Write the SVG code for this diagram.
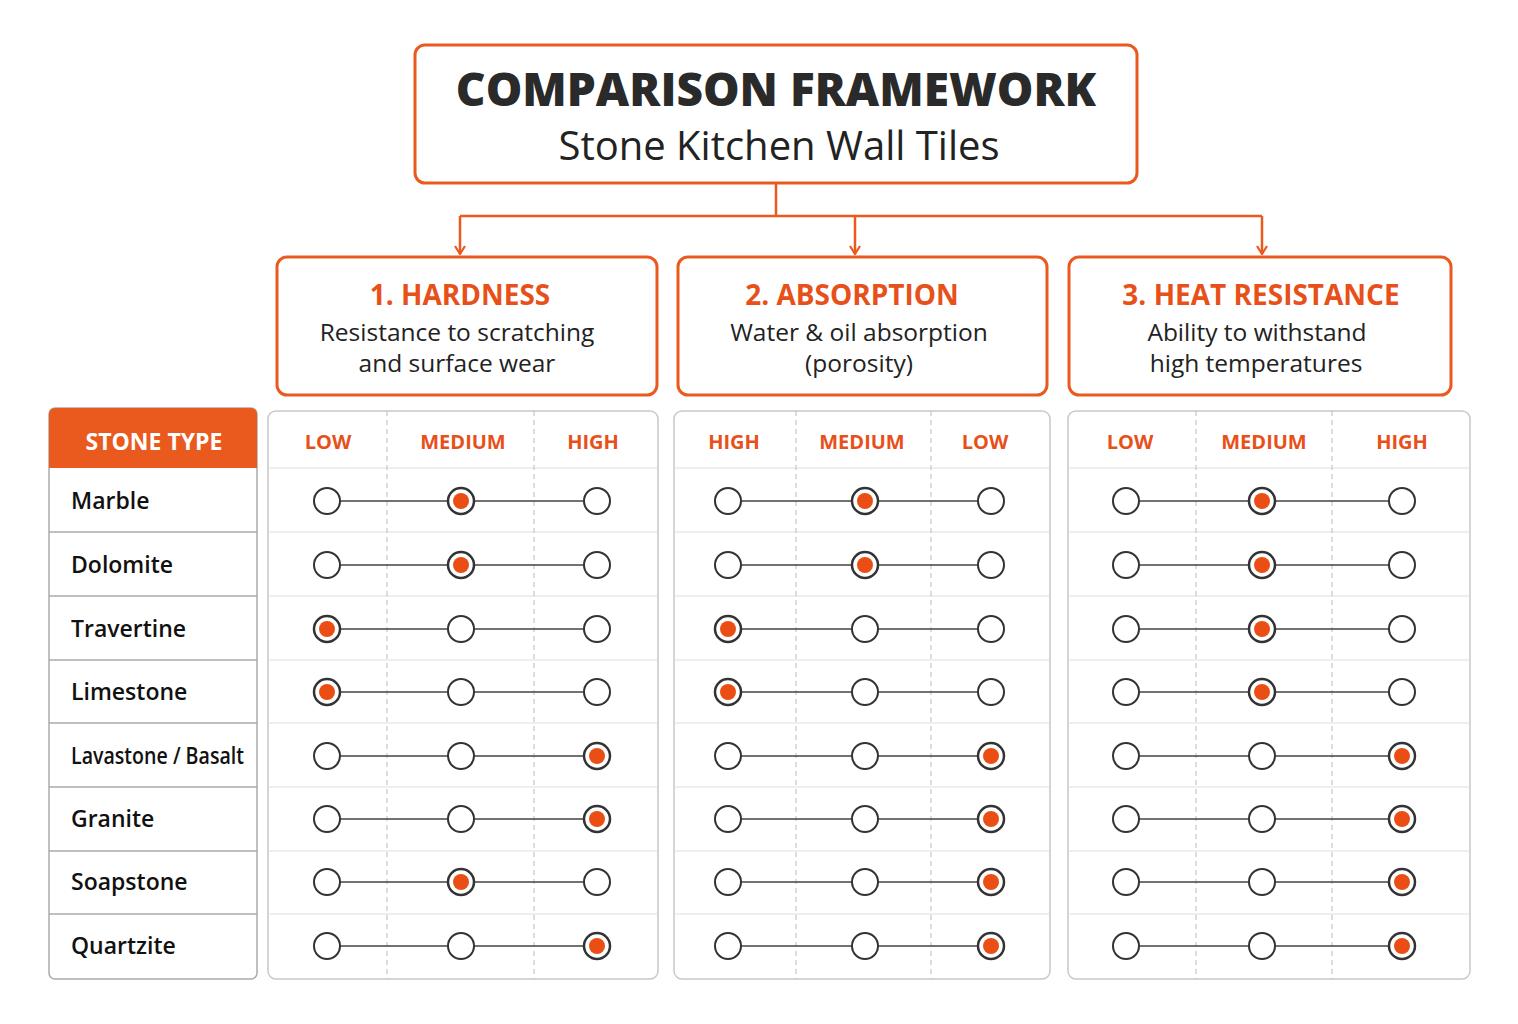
<svg xmlns="http://www.w3.org/2000/svg" width="1518" height="1024" viewBox="0 0 1518 1024">
<style>
text{font-family:"Open Sans","Noto Sans",sans-serif}
.ob{fill:#fff;stroke:#ea5a1e;stroke-width:3}
.ct{fill:#e8501a;font-weight:700;font-size:28px;text-anchor:middle}
.cd{fill:#222;font-size:24.5px;text-anchor:middle}
.hd{fill:#e8501a;font-weight:700;font-size:20px;text-anchor:middle}
.nm{fill:#111;font-size:23px;font-weight:600}
.tb{fill:#fff;stroke:#c8c8c8;stroke-width:1.5}
.dv{stroke:#bbb;stroke-width:1;stroke-dasharray:5 4}
.rl{stroke:#ddd;stroke-width:1.2}
.ln{stroke:#444;stroke-width:1.6}
.c{fill:#fff;stroke:#333;stroke-width:2}
.s{fill:#fff;stroke:#333;stroke-width:2.5}
.d{fill:#ea4e15}
</style>
<defs>
<marker id="ar" viewBox="0 0 10 12" refX="9" refY="6" markerWidth="10" markerHeight="12" markerUnits="userSpaceOnUse" orient="auto"><path d="M1,1 L9,6 L1,11" fill="none" stroke="#ea5a1e" stroke-width="2.2"/></marker>
</defs>
<rect width="1518" height="1024" fill="#fff"/>
<g id="title"><rect class="ob" x="415" y="45" width="722" height="138" rx="10"/>
<text x="776" y="106" text-anchor="middle" font-size="46" font-weight="800" fill="#2a2a2a">COMPARISON FRAMEWORK</text>
<text x="779" y="160" text-anchor="middle" font-size="40" fill="#222">Stone Kitchen Wall Tiles</text></g>
<g id="connectors" fill="none" stroke="#ea5a1e" stroke-width="2.5">
<path d="M776,183 V216 M460,216 H1262"/>
<path d="M460,216 V254" marker-end="url(#ar)"/>
<path d="M855,216 V254" marker-end="url(#ar)"/>
<path d="M1262,216 V254" marker-end="url(#ar)"/>
</g>
<g id="c1"><rect class="ob" x="277" y="257" width="380" height="138" rx="10"/><text class="ct" x="460" y="305">1. HARDNESS</text><text class="cd" x="457" y="341">Resistance to scratching</text><text class="cd" x="457" y="372">and surface wear</text></g>
<g id="c2"><rect class="ob" x="678" y="257" width="369" height="138" rx="10"/><text class="ct" x="852" y="305">2. ABSORPTION</text><text class="cd" x="859" y="341">Water &amp; oil absorption</text><text class="cd" x="859" y="372">(porosity)</text></g>
<g id="c3"><rect class="ob" x="1069" y="257" width="382" height="138" rx="10"/><text class="ct" x="1261" y="305">3. HEAT RESISTANCE</text><text class="cd" x="1257" y="341">Ability to withstand</text><text class="cd" x="1256" y="372">high temperatures</text></g>
<g id="stone-type">
<rect x="49" y="408" width="208" height="571" rx="6" fill="#fff" stroke="#aaa" stroke-width="1.5"/>
<path d="M49,468 V414 a6,6 0 0 1 6,-6 H251 a6,6 0 0 1 6,6 V468 Z" fill="#ea5a1e"/>
<text x="154" y="450" text-anchor="middle" font-size="23" font-weight="700" fill="#fff">STONE TYPE</text>
<g stroke="#aaa" stroke-width="1.5"><path d="M49,532H257M49,596H257M49,660H257M49,723H257M49,787H257M49,851H257M49,914H257"/></g>
<text class="nm" x="71" y="509">Marble</text>
<text class="nm" x="71" y="573">Dolomite</text>
<text class="nm" x="71" y="637">Travertine</text>
<text class="nm" x="71" y="700">Limestone</text>
<text class="nm" x="71" y="764" font-size="21" textLength="173" lengthAdjust="spacingAndGlyphs">Lavastone / Basalt</text>
<text class="nm" x="71" y="827">Granite</text>
<text class="nm" x="71" y="890">Soapstone</text>
<text class="nm" x="71" y="954">Quartzite</text>
</g>
<g id="t1">
<rect class="tb" x="268" y="411" width="390" height="568" rx="8"/>
<path class="rl" d="M268,468H658M268,532H658M268,596H658M268,660H658M268,723H658M268,787H658M268,851H658M268,914H658"/>
<path class="dv" d="M387,411V979M534,411V979"/>
<text class="hd" x="328" y="449">LOW</text><text class="hd" x="463" y="449">MEDIUM</text><text class="hd" x="593" y="449">HIGH</text>
</g>
<g id="t2">
<rect class="tb" x="674" y="411" width="376" height="568" rx="8"/>
<path class="rl" d="M674,468H1050M674,532H1050M674,596H1050M674,660H1050M674,723H1050M674,787H1050M674,851H1050M674,914H1050"/>
<path class="dv" d="M796,411V979M931,411V979"/>
<text class="hd" x="734" y="449">HIGH</text><text class="hd" x="862" y="449">MEDIUM</text><text class="hd" x="985" y="449">LOW</text>
</g>
<g id="t3">
<rect class="tb" x="1068" y="411" width="402" height="568" rx="8"/>
<path class="rl" d="M1068,468H1470M1068,532H1470M1068,596H1470M1068,660H1470M1068,723H1470M1068,787H1470M1068,851H1470M1068,914H1470"/>
<path class="dv" d="M1196,411V979M1332,411V979"/>
<text class="hd" x="1130" y="449">LOW</text><text class="hd" x="1264" y="449">MEDIUM</text><text class="hd" x="1402" y="449">HIGH</text>
</g>
<g id="ratings">
<path class="ln" d="M327,501H597M327,565H597M327,629H597M327,692H597M327,756H597M327,819H597M327,882H597M327,946H597"/>
<path class="ln" d="M728,501H991M728,565H991M728,629H991M728,692H991M728,756H991M728,819H991M728,882H991M728,946H991"/>
<path class="ln" d="M1126,501H1402M1126,565H1402M1126,629H1402M1126,692H1402M1126,756H1402M1126,819H1402M1126,882H1402M1126,946H1402"/>
<circle class="c" cx="327" cy="501" r="13"/><circle class="s" cx="461" cy="501" r="13"/><circle class="d" cx="461" cy="501" r="8"/><circle class="c" cx="597" cy="501" r="13"/>
<circle class="c" cx="327" cy="565" r="13"/><circle class="s" cx="461" cy="565" r="13"/><circle class="d" cx="461" cy="565" r="8"/><circle class="c" cx="597" cy="565" r="13"/>
<circle class="s" cx="327" cy="629" r="13"/><circle class="d" cx="327" cy="629" r="8"/><circle class="c" cx="461" cy="629" r="13"/><circle class="c" cx="597" cy="629" r="13"/>
<circle class="s" cx="327" cy="692" r="13"/><circle class="d" cx="327" cy="692" r="8"/><circle class="c" cx="461" cy="692" r="13"/><circle class="c" cx="597" cy="692" r="13"/>
<circle class="c" cx="327" cy="756" r="13"/><circle class="c" cx="461" cy="756" r="13"/><circle class="s" cx="597" cy="756" r="13"/><circle class="d" cx="597" cy="756" r="8"/>
<circle class="c" cx="327" cy="819" r="13"/><circle class="c" cx="461" cy="819" r="13"/><circle class="s" cx="597" cy="819" r="13"/><circle class="d" cx="597" cy="819" r="8"/>
<circle class="c" cx="327" cy="882" r="13"/><circle class="s" cx="461" cy="882" r="13"/><circle class="d" cx="461" cy="882" r="8"/><circle class="c" cx="597" cy="882" r="13"/>
<circle class="c" cx="327" cy="946" r="13"/><circle class="c" cx="461" cy="946" r="13"/><circle class="s" cx="597" cy="946" r="13"/><circle class="d" cx="597" cy="946" r="8"/>
<circle class="c" cx="728" cy="501" r="13"/><circle class="s" cx="865" cy="501" r="13"/><circle class="d" cx="865" cy="501" r="8"/><circle class="c" cx="991" cy="501" r="13"/>
<circle class="c" cx="728" cy="565" r="13"/><circle class="s" cx="865" cy="565" r="13"/><circle class="d" cx="865" cy="565" r="8"/><circle class="c" cx="991" cy="565" r="13"/>
<circle class="s" cx="728" cy="629" r="13"/><circle class="d" cx="728" cy="629" r="8"/><circle class="c" cx="865" cy="629" r="13"/><circle class="c" cx="991" cy="629" r="13"/>
<circle class="s" cx="728" cy="692" r="13"/><circle class="d" cx="728" cy="692" r="8"/><circle class="c" cx="865" cy="692" r="13"/><circle class="c" cx="991" cy="692" r="13"/>
<circle class="c" cx="728" cy="756" r="13"/><circle class="c" cx="865" cy="756" r="13"/><circle class="s" cx="991" cy="756" r="13"/><circle class="d" cx="991" cy="756" r="8"/>
<circle class="c" cx="728" cy="819" r="13"/><circle class="c" cx="865" cy="819" r="13"/><circle class="s" cx="991" cy="819" r="13"/><circle class="d" cx="991" cy="819" r="8"/>
<circle class="c" cx="728" cy="882" r="13"/><circle class="c" cx="865" cy="882" r="13"/><circle class="s" cx="991" cy="882" r="13"/><circle class="d" cx="991" cy="882" r="8"/>
<circle class="c" cx="728" cy="946" r="13"/><circle class="c" cx="865" cy="946" r="13"/><circle class="s" cx="991" cy="946" r="13"/><circle class="d" cx="991" cy="946" r="8"/>
<circle class="c" cx="1126" cy="501" r="13"/><circle class="s" cx="1262" cy="501" r="13"/><circle class="d" cx="1262" cy="501" r="8"/><circle class="c" cx="1402" cy="501" r="13"/>
<circle class="c" cx="1126" cy="565" r="13"/><circle class="s" cx="1262" cy="565" r="13"/><circle class="d" cx="1262" cy="565" r="8"/><circle class="c" cx="1402" cy="565" r="13"/>
<circle class="c" cx="1126" cy="629" r="13"/><circle class="s" cx="1262" cy="629" r="13"/><circle class="d" cx="1262" cy="629" r="8"/><circle class="c" cx="1402" cy="629" r="13"/>
<circle class="c" cx="1126" cy="692" r="13"/><circle class="s" cx="1262" cy="692" r="13"/><circle class="d" cx="1262" cy="692" r="8"/><circle class="c" cx="1402" cy="692" r="13"/>
<circle class="c" cx="1126" cy="756" r="13"/><circle class="c" cx="1262" cy="756" r="13"/><circle class="s" cx="1402" cy="756" r="13"/><circle class="d" cx="1402" cy="756" r="8"/>
<circle class="c" cx="1126" cy="819" r="13"/><circle class="c" cx="1262" cy="819" r="13"/><circle class="s" cx="1402" cy="819" r="13"/><circle class="d" cx="1402" cy="819" r="8"/>
<circle class="c" cx="1126" cy="882" r="13"/><circle class="c" cx="1262" cy="882" r="13"/><circle class="s" cx="1402" cy="882" r="13"/><circle class="d" cx="1402" cy="882" r="8"/>
<circle class="c" cx="1126" cy="946" r="13"/><circle class="c" cx="1262" cy="946" r="13"/><circle class="s" cx="1402" cy="946" r="13"/><circle class="d" cx="1402" cy="946" r="8"/>
</g>
</svg>
